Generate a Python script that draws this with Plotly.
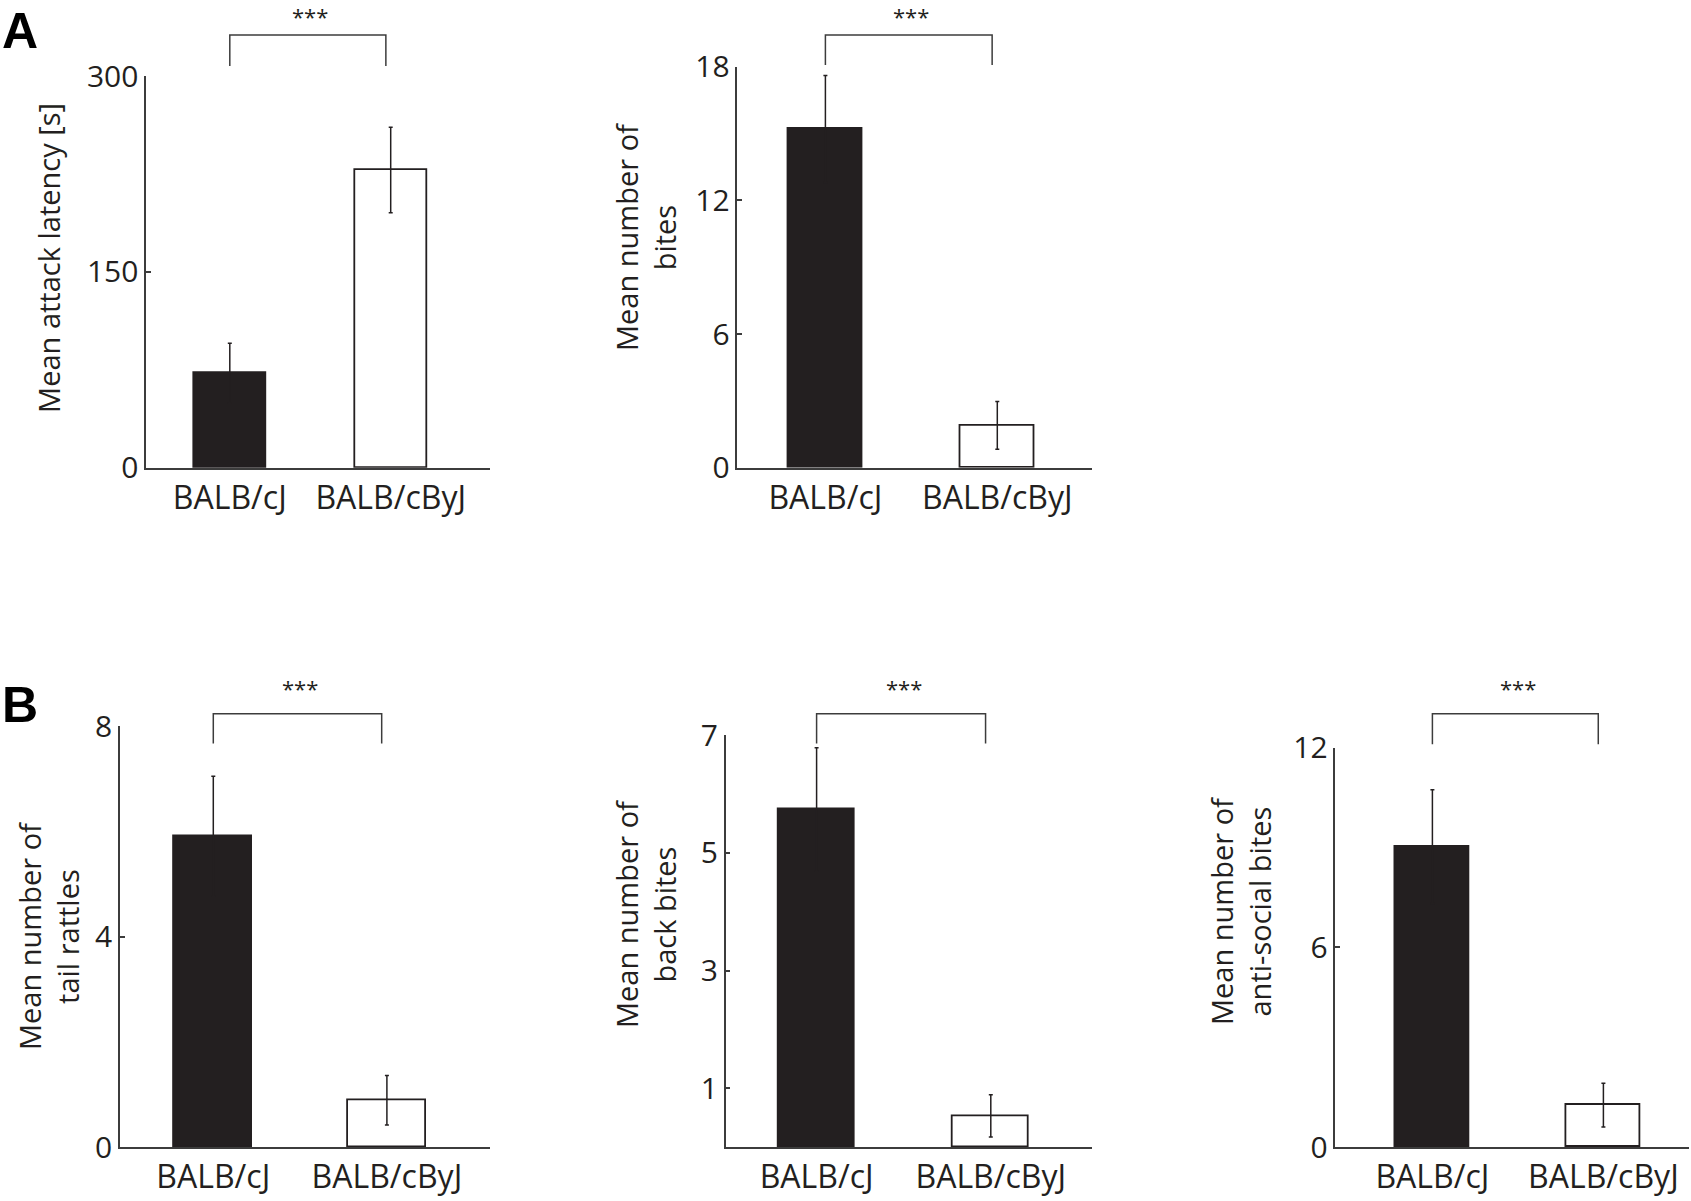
import plotly.graph_objects as go

# strains compared in every panel
groups = ["BALB/cJ", "BALB/cByJ"]

# panel A
attack_latency = [72.3, 228.0]
attack_latency_sem = [23.0, 32.7]
bites = [15.2, 1.9]
bites_sem = [2.4, 1.07]

# panel B
tail_rattles = [5.91, 0.89]
tail_rattles_sem = [1.14, 0.47]
back_bites = [5.74, 0.53]
back_bites_sem = [1.05, 0.36]
antisocial_bites = [9.03, 1.26]
antisocial_bites_sem = [1.71, 0.66]

# y tick values per panel
ticks_latency = [0, 150, 300]
ticks_bites = [0, 6, 12, 18]
ticks_rattles = [0, 4, 8]
ticks_back = [1, 3, 5, 7]
ticks_antisocial = [0, 6, 12]

W, H = 1691, 1201
INK = "#231f20"
AXIS = "#3c3c3c"
FONT = "Open Sans"


def fx(p):
    return p / W


def fy(p):
    return 1 - p / H


# (values, sem, ymax, ticks, title, x-span px, y-span px (top, bottom), bar centres px, bar width px, bracket y px, title pos)
panels = [
    (attack_latency, attack_latency_sem, 300, ticks_latency, "Mean attack latency [s]",
     (146.2, 490.3), (76, 467.7), (229.8, 390.7), 72, (35, 66), (48.4, 257.5)),
    (bites, bites_sem, 18, ticks_bites, "Mean number of<br>bites",
     (737.4, 1092.3), (66.7, 467.7), (825.4, 997.3), 73.3, (35, 65), (645, 237)),
    (tail_rattles, tail_rattles_sem, 8, ticks_rattles, "Mean number of<br>tail rattles",
     (120, 490.3), (726.3, 1147), (213.3, 386.9), 78, (713.7, 743.6), (48, 936)),
    (back_bites, back_bites_sem, 7, ticks_back, "Mean number of<br>back bites",
     (725.6, 1092.3), (735.3, 1147), (816.6, 990.8), 75.7, (713.7, 743.6), (645, 914)),
    (antisocial_bites, antisocial_bites_sem, 12, ticks_antisocial, "Mean number of<br>anti-social bites",
     (1335.3, 1689), (747.9, 1147), (1432.4, 1603.4), 74.5, (713.7, 744.3), (1240, 911)),
]

fig = go.Figure()
layout = {}
shapes = []
annotations = []

for i, (vals, sem, ymax, ticks, title, xs, ys, centres, bw, br, tpos) in enumerate(panels):
    n = "" if i == 0 else str(i + 1)
    unit = centres[1] - centres[0]
    r0 = -(centres[0] - xs[0]) / unit
    r1 = 1 + (xs[1] - centres[1]) / unit

    fig.add_trace(go.Bar(
        x=groups, y=vals, xaxis="x" + n, yaxis="y" + n, width=bw / unit,
        marker=dict(color=[INK, "white"], line=dict(color=INK, width=1.8)),
        error_y=dict(type="data", array=sem, color=INK, thickness=1.5, width=2),
        showlegend=False, hoverinfo="x+y",
    ))

    layout["xaxis" + n] = dict(
        domain=[fx(xs[0]), fx(xs[1])], anchor="y" + n, range=[r0, r1],
        showline=True, linecolor=AXIS, linewidth=1.5, ticks="", showgrid=False,
        zeroline=False, tickfont=dict(family=FONT, size=32, color=INK),
        ticklabelstandoff=1, fixedrange=True, automargin=False,
    )
    layout["yaxis" + n] = dict(
        domain=[fy(ys[1]), fy(ys[0])], anchor="x" + n, range=[0, ymax],
        showline=True, linecolor=AXIS, linewidth=1.5, ticks="inside", ticklen=5,
        tickwidth=1.5, tickcolor=AXIS, tickvals=ticks, showgrid=False, zeroline=False,
        tickfont=dict(family=FONT, size=30, color=INK), ticklabelstandoff=0,
        fixedrange=True, automargin=False,
    )

    # significance bracket between the two strains
    path = f"M 0,{fy(br[1])} L 0,{fy(br[0])} L 0.97,{fy(br[0])} L 0.97,{fy(br[1])}"
    shapes.append(dict(type="path", path=path, xref="x" + n, yref="paper",
                       line=dict(color=AXIS, width=1.5)))
    star_y = max(br[0] - 26, 16)
    annotations.append(dict(text="***", x=0.5, xref="x" + n, y=fy(star_y), yref="paper",
                            showarrow=False, xanchor="center", yanchor="middle",
                            font=dict(family=FONT, size=22, color=INK)))
    annotations.append(dict(text=title, x=fx(tpos[0]), y=fy(tpos[1]), xref="paper", yref="paper",
                            textangle=-90, showarrow=False, xanchor="center", yanchor="middle",
                            font=dict(family=FONT, size=29, color=INK)))

for letter, ly in [("A", 31), ("B", 705)]:
    annotations.append(dict(text="<b>" + letter + "</b>", x=0, y=fy(ly), xref="paper", yref="paper",
                            showarrow=False, xanchor="left", yanchor="middle",
                            font=dict(family="Liberation Sans", size=50, color="black")))

fig.update_layout(
    width=W, height=H, margin=dict(l=0, r=0, t=0, b=0, autoexpand=False),
    paper_bgcolor="white", plot_bgcolor="white",
    shapes=shapes, annotations=annotations, bargap=0,
    **layout,
)

# drop the page's default body margin so the figure fills the window exactly
fig.write_html("out.html", config={"displayModeBar": False},
               post_script="document.body.style.margin = '0';")
